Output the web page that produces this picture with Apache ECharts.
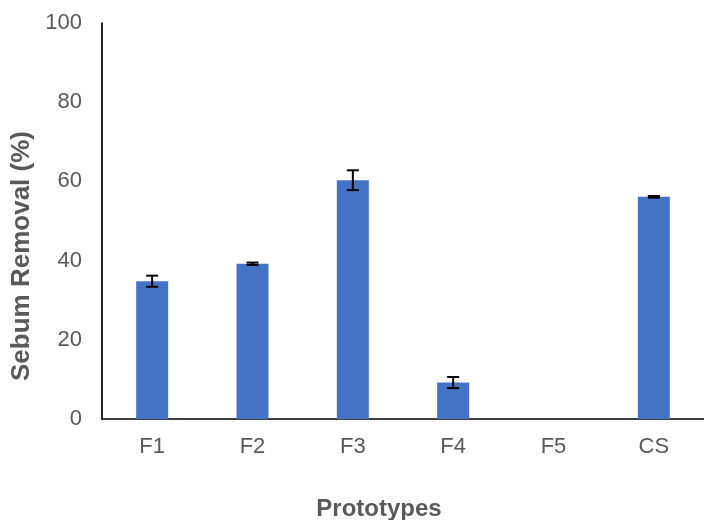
<!DOCTYPE html>
<html>
<head>
<meta charset="utf-8">
<script src="https://cdn.jsdelivr.net/npm/echarts@6/dist/echarts.min.js"></script>
<style>html,body{margin:0;padding:0;background:#fff}#c{width:704px;height:520px}</style>
</head>
<body>
<div id="c"></div>
<script>
var categories = ['F1', 'F2', 'F3', 'F4', 'F5', 'CS'];
var values = [34.8, 39.2, 60.3, 9.2, 0, 56.1];
var errors = [1.4, 0.3, 2.5, 1.4, 0, 0.2];
var yTicks = [0, 20, 40, 60, 80, 100];

var chart = echarts.init(document.getElementById('c'), null, {renderer: 'canvas'});
var errData = categories.map(function (c, i) {
  return [i, values[i] - errors[i], values[i] + errors[i], errors[i]];
});
var font = 'Liberation Sans, Arial, sans-serif';
chart.setOption({
  animation: false,
  backgroundColor: '#fff',
  grid: {left: 102, top: 23, width: 610, height: 396, containLabel: false},
  xAxis: {
    type: 'category',
    data: categories,
    axisLine: {lineStyle: {color: '#000', width: 1.7}},
    axisTick: {show: false},
    axisLabel: {color: '#595959', fontSize: 22, fontFamily: font, margin: 17},
    splitLine: {show: false}
  },
  yAxis: {
    type: 'value',
    min: yTicks[0],
    max: yTicks[yTicks.length - 1],
    interval: 20,
    axisLine: {show: true, lineStyle: {color: '#000', width: 1.7}},
    axisTick: {show: false},
    axisLabel: {color: '#595959', fontSize: 22, fontFamily: font, margin: 20},
    splitLine: {show: false}
  },
  graphic: [
    {type: 'text', x: 379, y: 509, style: {text: 'Prototypes', font: 'bold 24px ' + font, fill: '#595959', textAlign: 'center', textVerticalAlign: 'middle'}},
    {type: 'text', rotation: Math.PI / 2, x: 22, y: 256, style: {text: 'Sebum Removal (%)', font: 'bold 26px ' + font, fill: '#595959', textAlign: 'center', textVerticalAlign: 'middle'}}
  ],
  series: [
    {
      type: 'bar',
      data: values,
      barWidth: 32,
      itemStyle: {color: '#4472C4'},
      z: 2
    },
    {
      type: 'custom',
      z: 3,
      data: errData,
      renderItem: function (params, api) {
        if (api.value(3) <= 0) return null;
        var lo = api.coord([api.value(0), api.value(1)]);
        var hi = api.coord([api.value(0), api.value(2)]);
        var hw = 6;
        var st = {stroke: '#000', lineWidth: 2};
        return {
          type: 'group',
          children: [
            {type: 'line', shape: {x1: hi[0], y1: hi[1], x2: lo[0], y2: lo[1]}, style: st},
            {type: 'line', shape: {x1: hi[0] - hw, y1: hi[1], x2: hi[0] + hw, y2: hi[1]}, style: st},
            {type: 'line', shape: {x1: lo[0] - hw, y1: lo[1], x2: lo[0] + hw, y2: lo[1]}, style: st}
          ]
        };
      }
    }
  ]
});
</script>
</body>
</html>
